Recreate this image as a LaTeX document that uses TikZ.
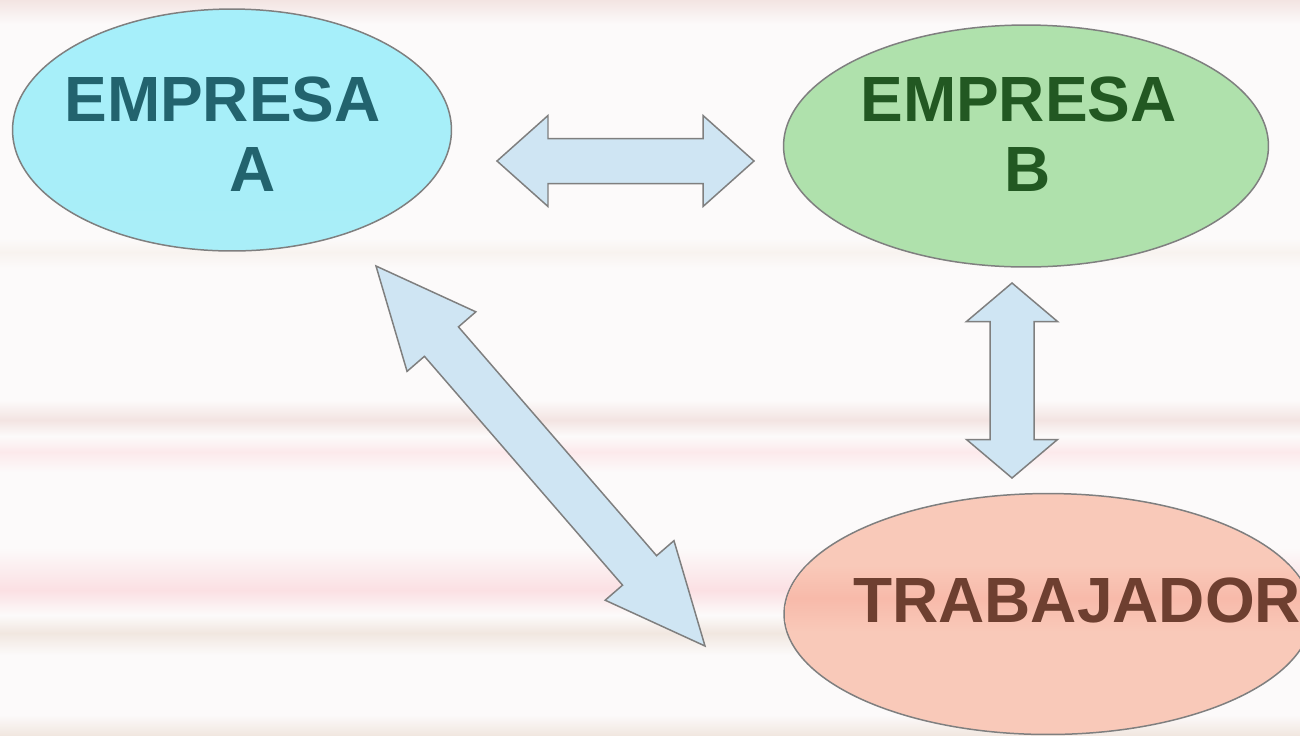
\documentclass[tikz,border=0pt]{standalone}
\usepackage{fontspec}
\setmainfont{Liberation Sans}
\usetikzlibrary{shapes.geometric,calc}
\definecolor{firmcyan}{HTML}{A9EEF8}
\definecolor{firmcyantop}{HTML}{A6EFFA}
\definecolor{firmgreen}{HTML}{AFE1AC}
\definecolor{workersalmon}{HTML}{F9C9B9}
\definecolor{workerband}{HTML}{F8BAAA}
\definecolor{textteal}{HTML}{22636E}
\definecolor{textgreen}{HTML}{225822}
\definecolor{textbrown}{HTML}{6E3F30}
\definecolor{edgegray}{HTML}{7F7F7F}
\definecolor{arrowblue}{HTML}{CFE5F3}
\definecolor{bgwhite}{HTML}{FCFAFA}
\definecolor{stripepink}{HTML}{FBE0E3}
\definecolor{stripedust}{HTML}{F3E4E2}
\definecolor{stripebeige}{HTML}{F1E7E0}

\newcommand{\tradearrow}[5]{%
  \draw[trade] (#1)
    -- ($(#1)!#3!(#2)!#4!90:(#2)$) -- ($(#1)!#3!(#2)!#5!90:(#2)$)
    -- ($(#2)!#3!(#1)!#5!-90:(#1)$) -- ($(#2)!#3!(#1)!#4!-90:(#1)$)
    -- (#2)
    -- ($(#2)!#3!(#1)!#4!90:(#1)$) -- ($(#2)!#3!(#1)!#5!90:(#1)$)
    -- ($(#1)!#3!(#2)!#5!-90:(#2)$) -- ($(#1)!#3!(#2)!#4!-90:(#2)$)
    -- cycle;}

\begin{document}
\begin{tikzpicture}[
  x=0.02cm, y=-0.02cm,
  firm/.style={ellipse, draw=edgegray, line width=0.85pt, inner sep=0pt, minimum height=4.84cm},
  title/.style={font=\fontsize{36.4}{40.4}\selectfont\bfseries, inner sep=0pt, align=center},
  trade/.style={draw=edgegray, fill=arrowblue, line width=0.85pt, line join=miter}
]
  \useasboundingbox (0,0) rectangle (1300,735);
  \clip (0,0) rectangle (1300,735);
  \fill[bgwhite] (0,0) rectangle (1300,735);
  \shade[top color=stripedust, bottom color=bgwhite] (0,0) rectangle (1300,24);
  \foreach \ya/\ym/\yb/\col in {238/252/268/stripebeige!50, 400/420/436/stripedust, 436/452/472/stripepink!70,
                                548/590/615/stripepink, 615/633/655/stripebeige}
  {
    \shade[top color=bgwhite, bottom color=\col] (0,\ya) rectangle (1300,\ym);
    \shade[top color=\col, bottom color=bgwhite] (0,\ym) rectangle (1300,\yb);
  }
  \shade[top color=bgwhite, bottom color=stripebeige] (0,715) rectangle (1300,735);

  \node[firm, top color=firmcyantop, bottom color=firmcyan, minimum width=8.78cm] (empA) at (232,130) {};
  \node[firm, fill=firmgreen, minimum width=9.7cm] (empB) at (1026,146) {};
  \node[firm, fill=workersalmon, minimum width=10.56cm, minimum height=4.82cm] (worker) at (1048,614) {};
  \begin{scope}
    \clip (worker.center) ellipse [x radius=5.26cm, y radius=2.39cm];
    \shade[top color=workersalmon, bottom color=workerband] (770,565) rectangle (1300,598);
    \shade[top color=workerband, bottom color=workersalmon] (770,598) rectangle (1300,632);
  \end{scope}

  \node[title, text=textteal, anchor=north west] (empAname) at (64,76) {EMPRESA\\\hspace*{1.2cm}A};
  \node[title, text=textgreen, anchor=north west] (empBname) at (860,76) {EMPRESA\\\hspace*{0.38cm}B};
  \node[title, text=textbrown, anchor=base west] (workername) at (853,622) {TRABAJADOR};

  \coordinate (abL) at (497,161);
  \coordinate (abR) at (754,161);
  \coordinate (bwT) at (1012,283);
  \coordinate (bwB) at (1012,478);
  \coordinate (awT) at (376,266);
  \coordinate (awB) at (705,646);

  \tradearrow{abL}{abR}{1.02cm}{0.91cm}{0.45cm}
  \tradearrow{bwT}{bwB}{0.77cm}{0.91cm}{0.44cm}
  \tradearrow{awT}{awB}{2.0cm}{0.91cm}{0.45cm}
\end{tikzpicture}
\end{document}
